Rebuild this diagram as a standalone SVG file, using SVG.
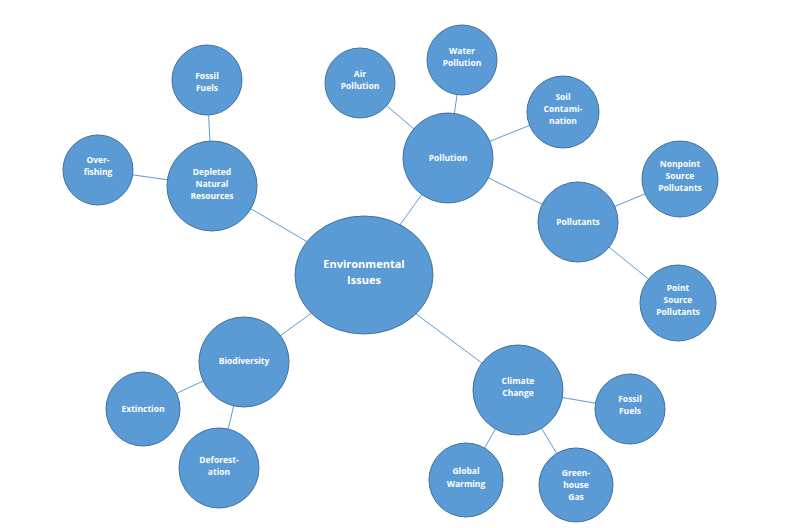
<svg xmlns="http://www.w3.org/2000/svg" width="794" height="528" viewBox="0 0 794 528">
<style>
.n{fill:#5b9bd5;stroke:#41719c;stroke-width:1}
.c line{stroke:#5b9bd5;stroke-width:1}
text{font-family:"Open Sans","Liberation Sans",sans-serif;font-weight:bold;fill:#fff;font-size:8.5px;text-anchor:middle}
.big{font-size:11px}
</style>
<rect width="794" height="528" fill="#fff"/>
<g class="c">
<line x1="364" y1="275" x2="212" y2="186"/>
<line x1="212" y1="186" x2="207" y2="80"/>
<line x1="212" y1="186" x2="98" y2="170"/>
<line x1="364" y1="275" x2="448" y2="158"/>
<line x1="448" y1="158" x2="360" y2="83"/>
<line x1="448" y1="158" x2="462" y2="60"/>
<line x1="448" y1="158" x2="563" y2="112"/>
<line x1="448" y1="158" x2="578" y2="222"/>
<line x1="578" y1="222" x2="680" y2="179"/>
<line x1="578" y1="222" x2="678" y2="303"/>
<line x1="364" y1="275" x2="244" y2="362"/>
<line x1="244" y1="362" x2="143" y2="409"/>
<line x1="244" y1="362" x2="219" y2="468"/>
<line x1="364" y1="275" x2="518" y2="390"/>
<line x1="518" y1="390" x2="630" y2="409"/>
<line x1="518" y1="390" x2="466" y2="480"/>
<line x1="518" y1="390" x2="576" y2="485"/>
</g>
<g id="env"><ellipse class="n" cx="364" cy="275" rx="69" ry="59"/><text class="big" x="364" y="268">Environmental</text><text class="big" x="364" y="284">Issues</text></g>
<g id="depleted"><circle class="n" cx="212" cy="186" r="45"/><text x="212" y="175">Depleted</text><text x="212" y="187">Natural</text><text x="212" y="199">Resources</text></g>
<g id="fossil1"><circle class="n" cx="207" cy="80" r="35"/><text x="207" y="79">Fossil</text><text x="207" y="91">Fuels</text></g>
<g id="overfishing"><circle class="n" cx="98" cy="170" r="35"/><text x="98" y="163">Over-</text><text x="98" y="175">fishing</text></g>
<g id="pollution"><circle class="n" cx="448" cy="158" r="45"/><text x="448" y="161">Pollution</text></g>
<g id="air"><circle class="n" cx="360" cy="83" r="35"/><text x="360" y="77">Air</text><text x="360" y="89">Pollution</text></g>
<g id="water"><circle class="n" cx="462" cy="60" r="35"/><text x="462" y="54">Water</text><text x="462" y="66">Pollution</text></g>
<g id="soil"><circle class="n" cx="563" cy="112" r="36"/><text x="563" y="100">Soil</text><text x="563" y="112">Contami-</text><text x="563" y="124">nation</text></g>
<g id="pollutants"><circle class="n" cx="578" cy="222" r="40"/><text x="578" y="225">Pollutants</text></g>
<g id="nonpoint"><circle class="n" cx="680" cy="179" r="38"/><text x="680" y="167">Nonpoint</text><text x="680" y="179">Source</text><text x="680" y="191">Pollutants</text></g>
<g id="point"><circle class="n" cx="678" cy="303" r="38"/><text x="678" y="291">Point</text><text x="678" y="303">Source</text><text x="678" y="315">Pollutants</text></g>
<g id="biodiversity"><circle class="n" cx="244" cy="362" r="45"/><text x="244" y="364">Biodiversity</text></g>
<g id="extinction"><circle class="n" cx="143" cy="409" r="37"/><text x="143" y="412">Extinction</text></g>
<g id="deforestation"><circle class="n" cx="219" cy="468" r="40"/><text x="219" y="463">Deforest-</text><text x="219" y="475">ation</text></g>
<g id="climate"><circle class="n" cx="518" cy="390" r="45"/><text x="518" y="384">Climate</text><text x="518" y="396">Change</text></g>
<g id="fossil2"><circle class="n" cx="630" cy="409" r="35"/><text x="630" y="402">Fossil</text><text x="630" y="414">Fuels</text></g>
<g id="global"><circle class="n" cx="466" cy="480" r="37"/><text x="466" y="474">Global</text><text x="466" y="487">Warming</text></g>
<g id="greenhouse"><circle class="n" cx="576" cy="485" r="37"/><text x="576" y="476">Green-</text><text x="576" y="488">house</text><text x="576" y="500">Gas</text></g>
</svg>
